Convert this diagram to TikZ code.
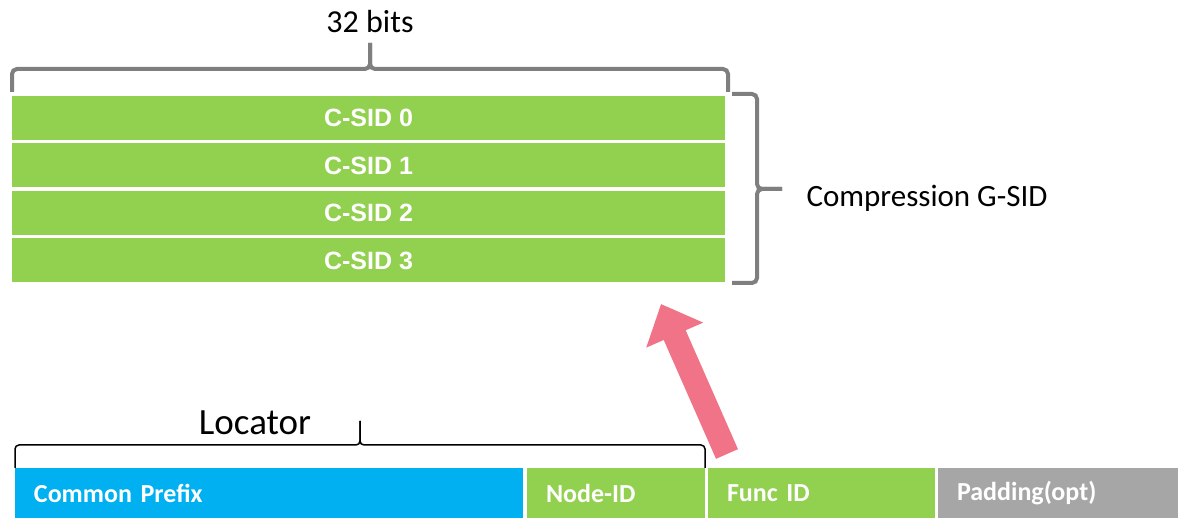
\documentclass[tikz,border=0pt]{standalone}
\usepackage{fontspec}
\setmainfont{Carlito}
\newfontfamily\arialfont{Liberation Sans}
\usepackage{tikz}
\usetikzlibrary{positioning,arrows.meta}
\definecolor{sidgreen}{HTML}{92D050}
\definecolor{prefixblue}{HTML}{00B0F0}
\definecolor{padgray}{HTML}{A6A6A6}
\definecolor{bracegray}{HTML}{7F7F7F}
\definecolor{arrowpink}{HTML}{F07387}

\begin{document}
\begin{tikzpicture}[x=1pt,y=1pt,
	csid/.style={fill=sidgreen,minimum width=713pt,minimum height=44pt,outer sep=0pt,inner sep=0pt,text=white,font=\arialfont\bfseries\fontsize{25}{30}\selectfont},
	field/.style={minimum height=50pt,outer sep=0pt,inner xsep=19pt,inner ysep=0pt,align=left,text=white,anchor=south west,font=\bfseries\fontsize{26}{30}\selectfont},
	gbrace/.style={draw=bracegray,line width=4pt,rounded corners=5pt},
	lbrace/.style={draw=black,line width=1.5pt,rounded corners=4pt}]
	\useasboundingbox (0,0) rectangle (1178,518);
	\node[csid] (c0) at (368.5,400) {C-SID 0};
	\node[csid,below=3.5pt of c0] (c1) {C-SID 1};
	\node[csid,below=3.5pt of c1] (c2) {C-SID 2};
	\node[csid,below=3.5pt of c2] (c3) {C-SID 3};
	\node[field,fill=prefixblue,text width=470pt] (prefix) at (15,0) {Common Prefix};
	\node[field,fill=sidgreen,text width=140pt,right=4pt of prefix] (nodeid) {Node-ID};
	\node[field,fill=sidgreen,text width=189pt,right=3pt of nodeid] (func) {Func ID};
	\node[field,fill=padgray,text width=202pt,right=3pt of func] (pad) {Padding(opt)};
	\draw[gbrace] (12,426) |- (370,449) -- (370,475);
	\draw[gbrace] (728,426) |- (370,449) -- (370,475);
	\node[font=\fontsize{32}{36}\selectfont] (bits) at (370,496) {32 bits};
	\draw[gbrace] (732,424) -| (757,329) -- (782,329);
	\draw[gbrace] (732,235) -| (757,329) -- (782,329);
	\node[anchor=west,font=\fontsize{31}{36}\selectfont] (gsid) at (803,320) {Compression G-SID};
	\draw[lbrace] (prefix.north west) |- (360,73) -- (360,97);
	\draw[lbrace] (nodeid.north east) |- (360,73) -- (360,97);
	\node[font=\fontsize{37}{42}\selectfont] (locator) at (255,95) {Locator};
	\coordinate (arrtail) at (727,64);
	\coordinate (arrtip) at (661,214);
	\draw[arrowpink,line width=24pt,-{Triangle[width=60pt,length=34pt]}] (arrtail) -- (arrtip);
\end{tikzpicture}
\end{document}
